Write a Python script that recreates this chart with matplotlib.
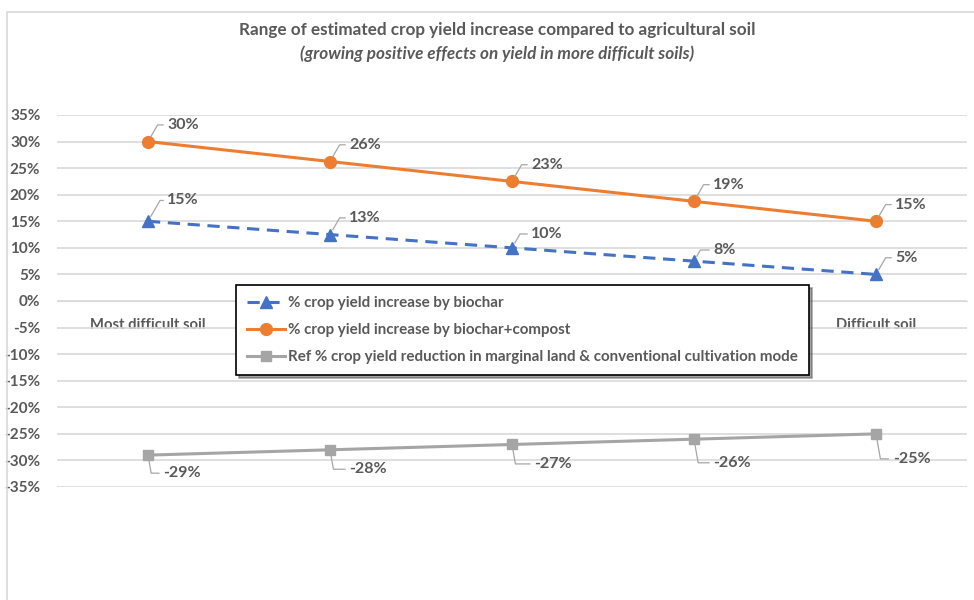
import matplotlib
matplotlib.use("Agg")
import matplotlib.pyplot as plt
from matplotlib.patches import Rectangle
from matplotlib.ticker import FuncFormatter, MultipleLocator

plt.rcParams['font.family'] = ['Lato', 'DejaVu Sans']

categories = ["Most difficult soil", "", "", "", "Difficult soil"]
biochar = [15, 12.5, 10, 7.5, 5]
compost = [30, 26.25, 22.5, 18.75, 15]
reference = [-29, -28, -27, -26, -25]
biochar_labels = ["15%", "13%", "10%", "8%", "5%"]
compost_labels = ["30%", "26%", "23%", "19%", "15%"]
reference_labels = ["-29%", "-28%", "-27%", "-26%", "-25%"]

series_names = ["% crop yield increase by biochar",
                "% crop yield increase by biochar+compost",
                "Ref % crop yield reduction in marginal land & conventional cultivation mode"]

W, H = 974, 600
fig = plt.figure(figsize=(W / 100, H / 100), dpi=100)
fig.patches.append(Rectangle((7 / W, -0.1), 1.2, 1 - 12 / H + 0.1, transform=fig.transFigure,
                             fill=False, edgecolor="#D9D9D9", linewidth=1.2))

ax = fig.add_axes([57 / W, 1 - 487 / H, (967 - 57) / W, (487 - 115) / H])
x = list(range(len(categories)))
text_c = "#595959"

ax.plot(x, biochar, color="#4472C4", linestyle=(0, (4, 2.5)), linewidth=2.2,
        marker="^", markersize=8.5, label=series_names[0], zorder=3)
ax.plot(x, compost, color="#ED7D31", linewidth=2.2, marker="o", markersize=8.5,
        label=series_names[1], zorder=3)
ax.plot(x, reference, color="#A5A5A5", linewidth=2.2, marker="s", markersize=7.5,
        label=series_names[2], zorder=3)

ax.set_xlim(-0.5, len(categories) - 0.5)
ax.set_ylim(-35, 35)
ax.yaxis.set_major_locator(MultipleLocator(5))
ax.yaxis.set_major_formatter(FuncFormatter(lambda v, p: f"{int(round(v))}%"))
ax.grid(axis="y", color="#D9D9D9", linewidth=1.2)
ax.set_axisbelow(True)
for s in ["top", "right", "left"]:
    ax.spines[s].set_visible(False)
ax.spines["bottom"].set_position(("data", 0))
ax.spines["bottom"].set_color("#D9D9D9")
ax.set_xticks(x)
ax.set_xticklabels(categories)
ax.tick_params(axis="x", length=0, pad=12, labelsize=10.6, labelcolor=text_c)
ax.tick_params(axis="y", length=0, pad=12, labelsize=11, labelcolor=text_c)
for lab in ax.get_xticklabels() + ax.get_yticklabels():
    lab.set_fontweight("bold")

def label_series(vals, labels, offsets, angle):
    for i, (v, t) in enumerate(zip(vals, labels)):
        dx, dy = offsets[i]
        ax.annotate(t, xy=(i, v), xytext=(dx, dy), textcoords="offset points",
                    ha="left", va="center", fontsize=11.5, fontweight="bold", color=text_c,
                    arrowprops=dict(arrowstyle="-", color="#A6A6A6", linewidth=0.9,
                                    shrinkA=1, shrinkB=4,
                                    connectionstyle=f"angle,angleA=0,angleB={angle},rad=0"))

label_series(compost, compost_labels, [(14, 12)] * 5, 60)
label_series(biochar, biochar_labels, [(14, 15), (14, 12), (14, 10), (14, 8), (14, 12)], 60)
label_series(reference, reference_labels,
             [(11, -13), (14, -14), (16, -14), (14, -17), (12, -18)], -80)

fig.text(497 / W, 1 - 30 / H,
         "Range of estimated crop yield increase compared to agricultural soil",
         ha="center", va="center", fontsize=12.3, fontweight="bold", color=text_c)
fig.text(497 / W, 1 - 54 / H,
         "(growing positive effects on yield in more difficult soils)",
         ha="center", va="center", fontsize=12.3, fontweight="bold", style="italic", color=text_c)

leg = fig.legend(loc="upper left", bbox_to_anchor=(236 / W, 1 - 285 / H),
                 bbox_transform=fig.transFigure, frameon=True, fancybox=False, shadow=True,
                 prop={"size": 10.9, "weight": "bold"}, labelcolor=text_c,
                 handlelength=2.5, handletextpad=0.2, labelspacing=0.85,
                 borderpad=0.75, borderaxespad=0)
leg.get_frame().set_edgecolor("black")
leg.get_frame().set_linewidth(1.2)

fig.savefig("out.png", dpi=100, facecolor="white")
